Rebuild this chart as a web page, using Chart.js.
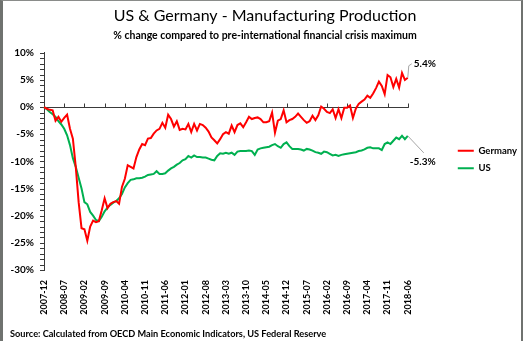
<!DOCTYPE html>
<html>
<head>
<meta charset="utf-8">
<script src="https://cdn.jsdelivr.net/npm/chart.js@4.4.1/dist/chart.umd.min.js"></script>
<style>
  body { margin: 0; background: #fff; }
  #wrap { position: relative; width: 527px; height: 341px; }
  #frame { position: absolute; left: 0; top: 0; width: 523px; height: 341px;
           border-left: 3px solid #6f726f; border-top: 1px solid #8a8c8a; border-right: 2px solid #6f726f;
           box-sizing: border-box; pointer-events: none; }
  #source { position: absolute; left: 10px; top: 328px; font: bold 9.2px Lato, sans-serif; color: #000; white-space: nowrap; }
</style>
</head>
<body>
<div id="wrap">
  <canvas id="myChart" width="527" height="341"></canvas>
  <div id="frame"></div>
  <div id="source">Source: Calculated from OECD Main Economic Indicators, US Federal Reserve</div>
</div>
<script>
// monthly categories, 2007-12 to 2018-06
var months = [
  '2007-12',
  '2008-01','2008-02','2008-03','2008-04','2008-05','2008-06','2008-07','2008-08','2008-09','2008-10','2008-11','2008-12',
  '2009-01','2009-02','2009-03','2009-04','2009-05','2009-06','2009-07','2009-08','2009-09','2009-10','2009-11','2009-12',
  '2010-01','2010-02','2010-03','2010-04','2010-05','2010-06','2010-07','2010-08','2010-09','2010-10','2010-11','2010-12',
  '2011-01','2011-02','2011-03','2011-04','2011-05','2011-06','2011-07','2011-08','2011-09','2011-10','2011-11','2011-12',
  '2012-01','2012-02','2012-03','2012-04','2012-05','2012-06','2012-07','2012-08','2012-09','2012-10','2012-11','2012-12',
  '2013-01','2013-02','2013-03','2013-04','2013-05','2013-06','2013-07','2013-08','2013-09','2013-10','2013-11','2013-12',
  '2014-01','2014-02','2014-03','2014-04','2014-05','2014-06','2014-07','2014-08','2014-09','2014-10','2014-11','2014-12',
  '2015-01','2015-02','2015-03','2015-04','2015-05','2015-06','2015-07','2015-08','2015-09','2015-10','2015-11','2015-12',
  '2016-01','2016-02','2016-03','2016-04','2016-05','2016-06','2016-07','2016-08','2016-09','2016-10','2016-11','2016-12',
  '2017-01','2017-02','2017-03','2017-04','2017-05','2017-06','2017-07','2017-08','2017-09','2017-10','2017-11','2017-12',
  '2018-01','2018-02','2018-03','2018-04','2018-05','2018-06'
];

// % change vs pre-crisis maximum
var germany = [
  0, -0.3, -0.5, -0.6, -2.5, -1.8, -2.7, -2.0, -1.4, -4.0, -5.8, -11.0, -17.5,
  -22.3, -22.5, -24.6, -22.0, -20.9, -21.2, -21.0, -19.0, -16.8, -18.6, -17.8, -17.5,
  -17.3, -17.8, -14.7, -13.2, -10.7, -11.0, -11.3, -9.2, -7.8, -6.8, -7.0, -5.8,
  -5.7, -4.9, -4.3, -4.0, -2.9, -3.8, -1.4, -2.2, -3.6, -2.6, -4.2, -4.0,
  -4.1, -3.1, -4.6, -3.1, -4.3, -3.1, -3.3, -3.8, -4.5, -5.6, -6.1, -6.7,
  -5.9, -5.0, -4.6, -4.9, -3.4, -4.6, -3.3, -3.0, -3.7, -2.8, -1.8, -2.2,
  -2.0, -1.9, -2.2, -2.8, -2.8, -2.6, -1.0, -4.7, -2.5, -2.2, -0.6, -2.8,
  -2.4, -2.2, -1.8, -1.2, -1.8, -2.4, -2.9, -2.6, -1.6, -2.4, -1.5, 0.1,
  -0.3, -0.9, -1.1, -0.4, -2.0, -0.4, -2.0, -0.1, -0.1, 0.3, -2.0, -0.3,
  0.6, 1.0, 1.4, 2.1, 1.7, 2.5, 3.5, 4.7, 3.9, 2.4, 5.9, 5.5,
  3.7, 5.2, 3.6, 6.3, 5.0, 5.4
];
var us = [
  0, -0.4, -0.9, -1.3, -1.8, -2.6, -3.2, -4.0, -5.2, -7.0, -9.4, -11.0, -13.0,
  -15.0, -17.5, -17.9, -19.3, -20.0, -20.8, -21.0, -20.2, -19.2, -18.5, -18.0, -17.6,
  -17.3, -16.8, -16.0, -14.8, -14.0, -13.4, -13.3, -13.1, -13.1, -13.0, -12.8, -12.5,
  -12.4, -12.3, -11.8, -12.3, -12.3, -12.2, -11.7, -11.3, -11.0, -10.6, -10.3, -9.8,
  -9.6, -9.0, -9.3, -8.9, -9.2, -9.2, -9.3, -9.3, -9.5, -9.7, -9.8, -9.0,
  -8.5, -8.6, -8.4, -8.6, -8.4, -8.8, -8.2, -8.1, -8.1, -8.1, -8.0, -8.1,
  -8.8, -7.8, -7.6, -7.5, -7.4, -7.3, -7.0, -6.8, -7.2, -7.5, -6.8, -6.5,
  -7.2, -7.7, -7.7, -7.7, -7.8, -8.0, -7.7, -7.8, -8.0, -8.3, -8.4, -8.6,
  -8.2, -8.3, -8.6, -8.9, -8.8, -9.0, -8.8, -8.7, -8.6, -8.5, -8.4, -8.3,
  -8.1, -8.0, -7.8, -7.5, -7.4, -7.6, -7.6, -7.6, -7.9, -6.8, -6.5, -6.8,
  -6.2, -5.6, -5.9, -5.3, -5.9, -5.3
];

var yMin = -30, yMax = 10, yStep = 5;
var tickEvery = 7;

Chart.defaults.font.family = 'Lato, sans-serif';
Chart.defaults.color = '#000';

// zero line with category ticks, plus minor ticks on the value axis
var axisExtras = {
  id: 'axisExtras',
  beforeDatasetsDraw: function(chart) {
    var ctx = chart.ctx, area = chart.chartArea, x = chart.scales.x, y = chart.scales.y;
    ctx.save();
    ctx.strokeStyle = '#3a3a3a';
    ctx.lineWidth = 1;
    ctx.beginPath();
    for (var v = yMin; v <= yMax; v++) {
      var py = Math.round(y.getPixelForValue(v)) + 0.5;
      ctx.moveTo(area.left - 4, py);
      ctx.lineTo(area.left, py);
    }
    var y0 = Math.round(y.getPixelForValue(0)) + 0.5;
    ctx.moveTo(area.left, y0);
    ctx.lineTo(area.right + 1, y0);
    for (var i = 0; i < months.length; i += tickEvery) {
      var px = Math.round(x.getPixelForValue(i)) + 0.5;
      ctx.moveTo(px, y0 - 4);
      ctx.lineTo(px, y0);
    }
    ctx.stroke();
    ctx.restore();
  }
};

// value label at the last point of each series, with a leader line
var endLabels = {
  id: 'endLabels',
  afterDatasetsDraw: function(chart) {
    var ctx = chart.ctx;
    chart.data.datasets.forEach(function(ds, di) {
      var meta = chart.getDatasetMeta(di);
      var pt = meta.data[meta.data.length - 1];
      var val = ds.data[ds.data.length - 1];
      var o = ds.endLabel;
      ctx.save();
      ctx.strokeStyle = '#a6a6a6';
      ctx.lineWidth = 1;
      ctx.beginPath();
      ctx.moveTo(pt.x, pt.y);
      o.leader.forEach(function(p) { ctx.lineTo(pt.x + p[0], pt.y + p[1]); });
      ctx.stroke();
      ctx.fillStyle = '#000';
      ctx.font = 'bold 10px Lato, sans-serif';
      ctx.textAlign = o.align;
      ctx.textBaseline = 'middle';
      ctx.fillText(val.toFixed(1) + '%', pt.x + o.dx, pt.y + o.dy);
      ctx.restore();
    });
  }
};

var ctx = document.getElementById('myChart').getContext('2d');
var chart = new Chart(ctx, {
  type: 'line',
  data: {
    labels: months,
    datasets: [{
      label: 'Germany',
      data: germany,
      borderColor: '#ff0000',
      backgroundColor: '#ff0000',
      borderWidth: 2,
      pointRadius: 0,
      tension: 0,
      endLabel: { dx: 6, dy: -14, align: 'left', leader: [[1, -12], [4, -14]] }
    }, {
      label: 'US',
      data: us,
      borderColor: '#00b050',
      backgroundColor: '#00b050',
      borderWidth: 2,
      pointRadius: 0,
      tension: 0,
      endLabel: { dx: 15, dy: 26, align: 'center', leader: [[16, 17]] }
    }]
  },
  options: {
    responsive: false,
    animation: false,
    devicePixelRatio: 1,
    layout: { padding: { top: 0, left: 3, right: 0, bottom: 22 } },
    plugins: {
      title: {
        display: true,
        text: 'US & Germany - Manufacturing Production',
        font: { size: 16, weight: 'normal' },
        color: '#000',
        padding: { top: 6, bottom: 0 }
      },
      subtitle: {
        display: true,
        text: '% change compared to pre-international financial crisis maximum',
        font: { size: 10.5, weight: 'bold' },
        color: '#000',
        padding: { top: 4, bottom: 11 }
      },
      legend: {
        position: 'right',
        labels: {
          usePointStyle: true,
          pointStyle: 'line',
          pointStyleWidth: 16,
          padding: 8,
          font: { size: 9.5, weight: 'bold' },
          color: '#000'
        }
      },
      tooltip: { enabled: false }
    },
    scales: {
      x: {
        grid: { display: false, drawTicks: false },
        border: { display: false },
        ticks: {
          autoSkip: false,
          maxRotation: 90,
          minRotation: 90,
          padding: 10,
          font: { size: 9, weight: 'bold' },
          callback: function(val, i) { return i % tickEvery === 0 ? months[i] : ''; }
        },
        afterFit: function(s) { s.height = 49; }
      },
      y: {
        min: yMin,
        max: yMax,
        grid: { display: false, drawTicks: false },
        border: { display: true, color: '#3a3a3a', width: 1 },
        ticks: {
          stepSize: yStep,
          padding: 10,
          font: { size: 10, weight: 'bold' },
          callback: function(v) { return v + '%'; }
        },
        afterFit: function(s) { s.width = 41; }
      },
      gap: {
        type: 'linear',
        position: 'right',
        grid: { display: false, drawTicks: false },
        border: { display: false },
        ticks: { display: false },
        afterFit: function(s) { s.width = 42; }
      }
    }
  },
  plugins: [axisExtras, endLabels]
});
</script>
</body>
</html>
